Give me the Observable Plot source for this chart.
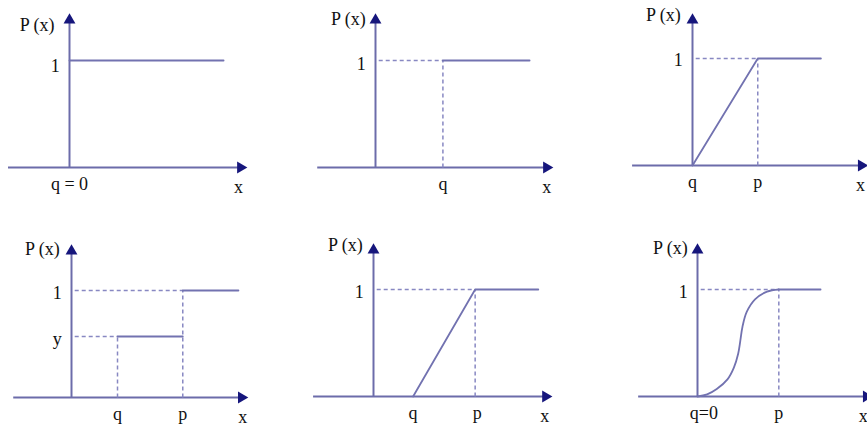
<!DOCTYPE html>
<html><head><meta charset="utf-8">
<script src="https://cdn.jsdelivr.net/npm/d3@7"></script>
<script src="https://cdn.jsdelivr.net/npm/@observablehq/plot@0.6"></script>
<style>
body{margin:0;background:#fff}
#root{position:relative;width:867px;height:427px;overflow:hidden}
#root svg{position:absolute}
#root svg text{font-family:"Liberation Serif", serif !important}
</style>
</head><body><div id="root"></div>
<script>
// ---- data (units: 1 = the level P(x)=1) ----
const panels = ["A","B","C","D","E","F"];
const xAxisStart = [-0.57,-0.54,-0.56,-0.54,-0.56,-0.55];
const xAxisEnd   = [1.66,1.66,1.64,1.65,1.67,1.64];
const yAxisTop   = [1.44,1.44,1.42,1.43,1.43,1.43];

const solidA  = [[0,1],[1.44,1]];
const solidB  = [[0.63,1],[1.44,1]];
const solidC  = [[0,0],[0.61,1],[1.2,1]];
const solidD1 = [[0.43,0.57],[1.04,0.57]];
const solidD2 = [[1.04,1],[1.56,1]];
const solidE  = [[0.37,0],[0.95,1],[1.54,1]];
const sCurveF = [[0,0],[0.09,0.02],[0.18,0.07],[0.28,0.16],[0.34,0.27],[0.38,0.40],[0.40,0.52],[0.42,0.65],[0.46,0.79],[0.54,0.91],[0.65,0.98],[0.76,1]];
const solidF  = [[0.76,1],[1.15,1]];

// dashed guides [x1,y1,x2,y2]
const guidesA = [];
const guidesB = [[0.03,1,0.63,1],[0.63,0,0.63,1]];
const guidesC = [[0.03,1,0.61,1],[0.61,0,0.61,1]];
const guidesD = [[0.03,1,1.04,1],[1.04,0,1.04,1],[0.03,0.57,0.43,0.57],[0.43,0,0.43,0.57]];
const guidesE = [[0.03,1,0.95,1],[0.95,0,0.95,1]];
const guidesF = [[0.03,1,0.76,1],[0.76,0,0.76,1]];

// tick labels on x axis [position, text]
const xTicksA = [[0,"q = 0"]];
const xTicksB = [[0.63,"q"]];
const xTicksC = [[0,"q"],[0.61,"p"]];
const xTicksD = [[0.43,"q"],[1.04,"p"]];
const xTicksE = [[0.37,"q"],[0.97,"p"]];
const xTicksF = [[0.06,"q=0"],[0.76,"p"]];
const xAxisName = [1.58,1.6,1.57,1.6,1.6,1.55];

// tick labels on y axis [value, text]
const yTicksA = [[1,"1"]];
const yTicksB = [[1,"1"]];
const yTicksC = [[1,"1"]];
const yTicksD = [[1,"1"],[0.57,"y"]];
const yTicksE = [[1,"1"]];
const yTicksF = [[1,"1"]];
const yAxisName = "P (x)";

// ---- layout ----
const unit = 107;
const layout = [
  {left:0,   top:0,   w:290, h:210, ox:69,  oy:167, nx:-0.14, ny:1.33, oneDy:6},
  {left:290, top:0,   w:290, h:210, ox:85,  oy:167, nx:-0.09, ny:1.39, oneDy:4},
  {left:580, top:0,   w:287, h:210, ox:112, oy:165, nx:-0.11, ny:1.40, oneDy:2},
  {left:0,   top:210, w:290, h:217, ox:71,  oy:187, nx:-0.11, ny:1.39, oneDy:3},
  {left:290, top:210, w:290, h:217, ox:83,  oy:186, nx:-0.10, ny:1.41, oneDy:3},
  {left:580, top:210, w:287, h:217, ox:117, oy:186, nx:-0.09, ny:1.39, oneDy:3}
];
const solids = [[solidA],[solidB],[solidC],[solidD1,solidD2],[solidE],[solidF]];
const smooth = [[],[],[],[],[],[sCurveF]];
const guides = [guidesA,guidesB,guidesC,guidesD,guidesE,guidesF];
const xTicks = [xTicksA,xTicksB,xTicksC,xTicksD,xTicksE,xTicksF];
const yTicks = [yTicksA,yTicksB,yTicksC,yTicksD,yTicksE,yTicksF];

const axisColor = "#6c6caa", arrowColor = "#16167c", lineColor = "#7272b0", dashColor = "#8888c2";
const font = "Liberation Serif";

const triUp = {draw(ctx, size){const y=-Math.sqrt(size/(Math.sqrt(3)*3));ctx.moveTo(0,y*2);ctx.lineTo(-Math.sqrt(3)*y,-y);ctx.lineTo(Math.sqrt(3)*y,-y);ctx.closePath();}};
const triRight = {draw(ctx, size){const y=-Math.sqrt(size/(Math.sqrt(3)*3));ctx.moveTo(-y*2,0);ctx.lineTo(y,-Math.sqrt(3)*y);ctx.lineTo(y,Math.sqrt(3)*y);ctx.closePath();}};

const root = document.getElementById("root");
panels.forEach((p, i) => {
  const L = layout[i];
  const T = {fill: "#111", fontSize: 18, fontFamily: font};
  const marks = [
    Plot.ruleY([0], {x1: xAxisStart[i], x2: xAxisEnd[i] - 0.05, stroke: axisColor, strokeWidth: 2}),
    Plot.ruleX([0], {y1: 0, y2: yAxisTop[i] - 0.05, stroke: axisColor, strokeWidth: 2}),
    Plot.dot([[0, yAxisTop[i]]], {x: d => d[0], y: d => d[1], symbol: triUp, r: 4.4, fill: arrowColor, stroke: "none", dy: 6.6}),
    Plot.dot([[xAxisEnd[i], 0]], {x: d => d[0], y: d => d[1], symbol: triRight, r: 4.4, fill: arrowColor, stroke: "none", dx: -6.6}),
    Plot.link(guides[i], {x1: d => d[0], y1: d => d[1], x2: d => d[2], y2: d => d[3], stroke: dashColor, strokeWidth: 1.5, strokeDasharray: "4,3"}),
    ...solids[i].map(s => Plot.line(s, {x: d => d[0], y: d => d[1], stroke: lineColor, strokeWidth: 1.8})),
    ...smooth[i].map(s => Plot.line(s, {x: d => d[0], y: d => d[1], stroke: lineColor, strokeWidth: 1.8, curve: "catmull-rom"})),
    Plot.text(xTicks[i], {x: d => d[0], y: 0, text: d => d[1], dy: 17, ...T}),
    Plot.text([xAxisName[i]], {x: d => d, y: 0, text: () => "x", dy: 20, ...T}),
    Plot.text(yTicks[i], {x: -0.09, y: d => d[0], text: d => d[1], textAnchor: "end", dy: L.oneDy, ...T}),
    Plot.text([L.ny], {x: L.nx, y: d => d, text: () => yAxisName, textAnchor: "end", ...T})
  ];
  const svg = Plot.plot({
    width: L.w, height: L.h,
    marginTop: 0, marginRight: 0, marginBottom: 0, marginLeft: 0,
    x: {domain: [-L.ox / unit, (L.w - L.ox) / unit], axis: null},
    y: {domain: [-(L.h - L.oy) / unit, L.oy / unit], axis: null},
    style: {fontFamily: font, fontSize: "18px", background: "transparent", overflow: "visible"},
    marks
  });
  svg.style.left = L.left + "px";
  svg.style.top = L.top + "px";
  root.appendChild(svg);
});
</script>
</body></html>
